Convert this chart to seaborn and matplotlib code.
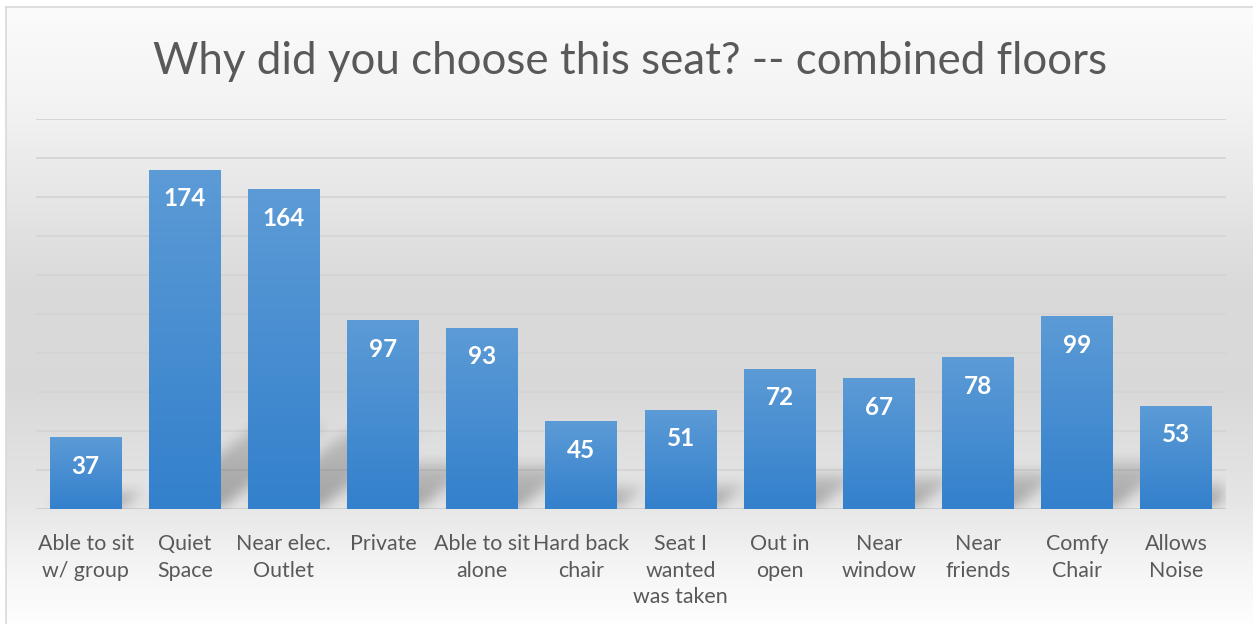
import numpy as np
import matplotlib
matplotlib.use("Agg")
import matplotlib.pyplot as plt
import seaborn as sns
import pandas as pd
from matplotlib.colors import LinearSegmentedColormap

# Survey results: reasons for choosing a seat, both floors combined
categories = [
    "Able to sit\nw/ group", "Quiet\nSpace", "Near elec.\nOutlet", "Private",
    "Able to sit\nalone", "Hard back\nchair", "Seat I\nwanted\nwas taken",
    "Out in\nopen", "Near\nwindow", "Near\nfriends", "Comfy\nChair", "Allows\nNoise",
]
counts = [37, 174, 164, 97, 93, 45, 51, 72, 67, 78, 99, 53]
title = "Why did you choose this seat? -- combined floors"

sns.set_theme(style="white")
plt.rcParams["font.family"] = ["Lato", "DejaVu Sans"]

W, H = 1253, 624
fig = plt.figure(figsize=(W / 100, H / 100), dpi=100)
fig.patch.set_facecolor("white")

# chart panel with a soft vertical grey gradient and thin border
bg = fig.add_axes([6 / W, 0, 1 - 6 / W, 1 - 7 / H], zorder=0)
stops_y = np.array([0.0, 0.15, 0.45, 0.62, 0.80, 0.92, 1.0])   # from top
stops_v = np.array([0.985, 0.955, 0.855, 0.85, 0.90, 0.965, 0.995])
ys = np.linspace(0, 1, 600)
vals = np.interp(ys, stops_y, stops_v)
grad = np.repeat(vals[:, None], 2, axis=1)
bg.imshow(np.dstack([grad, grad, grad]), aspect="auto", extent=[0, 1, 0, 1],
          interpolation="bilinear")
bg.set_xlim(0, 1)
bg.set_ylim(0, 1)
bg.set_xticks([])
bg.set_yticks([])
for side, sp in bg.spines.items():
    sp.set_visible(side in ("left", "top"))
    sp.set_color("#d9d9d9")
    sp.set_linewidth(1.2)

ax = fig.add_axes([36 / W, (H - 509) / H, 1190 / W, 390 / H], zorder=1)
ax.patch.set_alpha(0)

df = pd.DataFrame({"reason": categories, "count": counts})
sns.barplot(data=df, x="reason", y="count", ax=ax, color="#3f88cf",
            width=0.726, saturation=1, zorder=3)

ax.set_ylim(0, 200)
ax.set_xlim(-0.5, len(categories) - 0.5)

# horizontal gridlines
for g in range(20, 201, 20):
    ax.axhline(g, color="#d4d4d4", lw=1.3, zorder=1)
ax.axhline(0, color="#d0d0d0", lw=1.5, zorder=1)

# blurred perspective shadows behind each bar
nx, ny = 1190, 390
px_per_x = nx / len(categories)
px_per_y = ny / 200
img = np.zeros((ny, nx))
yy, xx = np.mgrid[0:ny, 0:nx]
t = (ny - 1 - yy).astype(float)  # pixels above baseline
for patch, v in zip(ax.patches, counts):
    x0 = (patch.get_x() + 0.5) * px_per_x
    x1 = x0 + patch.get_width() * px_per_x
    hs = 0.24 * v * px_per_y
    shift = 1.3 * t
    inside = (t <= hs) & (xx >= x0 + shift) & (xx <= x1 + shift)
    strength = 1.0 - 0.5 * (t / max(hs, 1))
    img = np.maximum(img, np.where(inside, strength, 0))
k = 15
kern = np.ones(k) / k
for _ in range(2):
    img = np.apply_along_axis(lambda r: np.convolve(r, kern, mode="same"), 1, img)
    img = np.apply_along_axis(lambda c: np.convolve(c, kern, mode="same"), 0, img)
shadow = np.zeros((ny, nx, 4))
shadow[..., 3] = 0.3 * img
ax.imshow(shadow, extent=[-0.5, len(categories) - 0.5, 0, 200], aspect="auto",
          zorder=2, interpolation="bilinear")
ax.set_ylim(0, 200)
ax.set_xlim(-0.5, len(categories) - 0.5)

# vertical blue gradient on each bar
cmap = LinearSegmentedColormap.from_list("bar", ["#3380cc", "#5c9bd6"])
gy = np.linspace(0, 1, 256)[:, None]
for patch in ax.patches:
    x = patch.get_x()
    w = patch.get_width()
    h = patch.get_height()
    im = ax.imshow(gy, cmap=cmap, origin="lower", aspect="auto",
                   extent=[x, x + w, 0, h], zorder=4, interpolation="bilinear")
    im.set_clip_path(patch)
    patch.set_alpha(0)
ax.set_ylim(0, 200)
ax.set_xlim(-0.5, len(categories) - 0.5)

# value labels inside the top of each bar
for patch, v in zip(ax.patches, counts):
    ax.text(patch.get_x() + patch.get_width() / 2, v - 15, f"{v}",
            ha="center", va="center", color="white", fontsize=17.5,
            fontweight="bold", zorder=5)

ax.set_xlabel("")
ax.set_ylabel("")
ax.set_yticks([])
ax.tick_params(axis="x", length=0, pad=18, labelsize=15.4, labelcolor="#595959")
for lbl in ax.get_xticklabels():
    lbl.set_linespacing(1.42)
    lbl.set_verticalalignment("top")
for sp in ax.spines.values():
    sp.set_visible(False)

fig.text(630 / W, 1 - 61 / H, title, ha="center", va="center",
         fontsize=31.6, color="#595959")

fig.savefig("out.png", dpi=100)
